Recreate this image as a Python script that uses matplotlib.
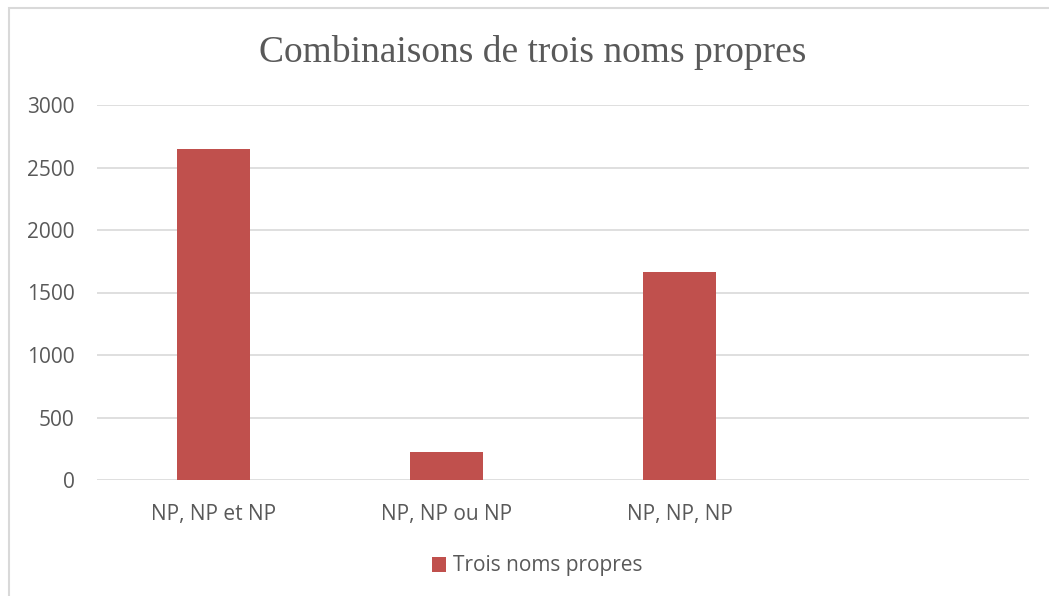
import matplotlib.pyplot as plt
from matplotlib.patches import Rectangle
import numpy as np

# Données
categories = ["NP, NP et NP", "NP, NP ou NP", "NP, NP, NP", ""]
valeurs = [2650, 225, 1668, 0]
serie = "Trois noms propres"
graduations = [0, 500, 1000, 1500, 2000, 2500, 3000]

plt.rcParams['font.family'] = ['Open Sans', 'DejaVu Sans']

fig = plt.figure(figsize=(10.49, 5.96), dpi=100)
ax = fig.add_axes([97 / 1049, 1 - 480 / 596, (1029 - 97) / 1049, 375 / 596])

# Cadre du graphique (ouvert à droite et en bas comme dans la capture)
fig.patches.append(Rectangle((9 / 1049, -0.1), 1.2, (596 - 8) / 596 + 0.1,
                             transform=fig.transFigure, fill=False,
                             edgecolor='#d9d9d9', linewidth=1.5))

x = np.arange(len(categories))
ax.bar(x[:3], valeurs[:3], width=0.313, color='#C0504D', label=serie, zorder=3)

ax.set_xlim(-0.5, len(categories) - 0.5)
ax.set_ylim(0, 3000)
ax.set_yticks(graduations)
ax.set_xticks(x)
ax.set_xticklabels(categories)
ax.grid(axis='y', color='#d9d9d9', linewidth=1.2, zorder=0)
for s in ax.spines.values():
    s.set_visible(False)
ax.tick_params(length=0, labelsize=15, colors='#595959')
ax.tick_params(axis='x', pad=17)
ax.tick_params(axis='y', pad=16)

fig.text(533 / 1049, 1 - 52 / 596, "Combinaisons de trois noms propres",
         family='Liberation Serif', fontsize=27, color='#595959',
         ha='center', va='center')

ax.legend(loc='center', bbox_to_anchor=(537 / 1049, 1 - 566 / 596),
          bbox_transform=fig.transFigure, frameon=False, fontsize=15,
          handlelength=0.7, handleheight=0.7, handletextpad=0.3,
          labelcolor='#595959')

fig.savefig("out.png", dpi=100)
